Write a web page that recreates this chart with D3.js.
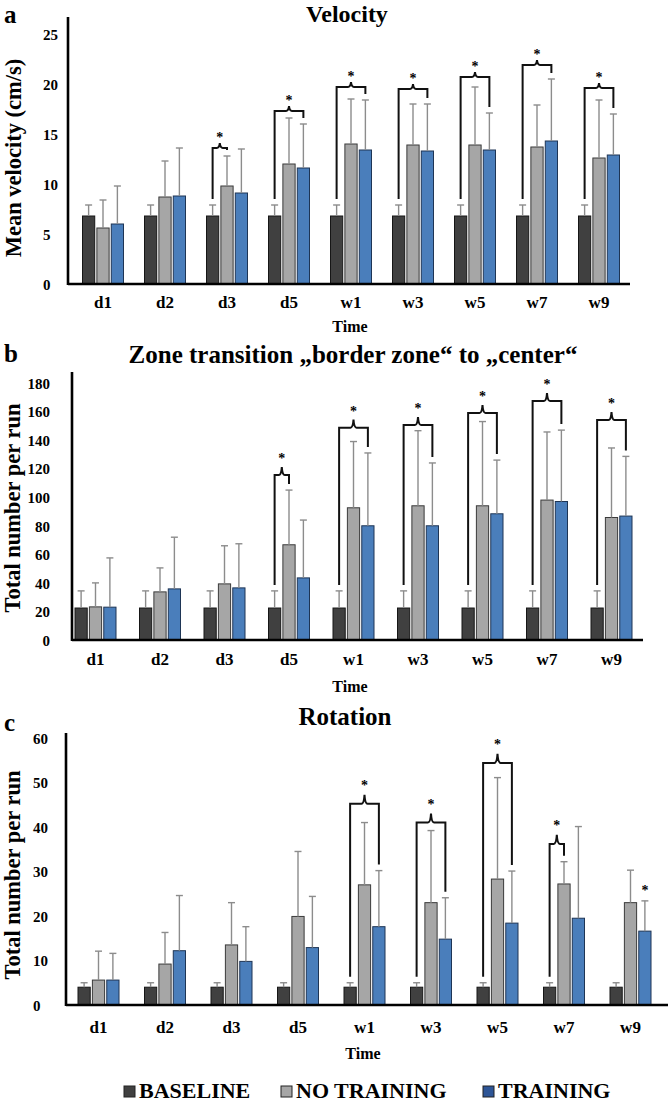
<!DOCTYPE html>
<html><head><meta charset="utf-8">
<script src="https://cdn.jsdelivr.net/npm/d3@7"></script>
<style>
body{margin:0;background:#fff}
svg{display:block}
text{font-family:"Liberation Serif","Times New Roman",serif;font-weight:bold;fill:#000}
</style>
</head><body>
<svg id="chart" width="668" height="1103"></svg>
<script>
// ---------------- DATA ----------------
const categories = ["d1","d2","d3","d5","w1","w3","w5","w7","w9"];
const seriesNames = ["BASELINE","NO TRAINING","TRAINING"];

// Panel a: Velocity (cm/s)
const velBaseline    = [6.8,6.8,6.8,6.8,6.8,6.8,6.8,6.8,6.8];
const velBaselineSD  = [1.1,1.1,1.1,1.1,1.1,1.1,1.1,1.1,1.1];
const velNoTraining  = [5.6,8.7,9.8,12.0,14.0,13.9,13.9,13.7,12.6];
const velNoTrainingSD= [2.8,3.6,3.0,4.6,4.5,4.1,5.8,4.2,5.8];
const velTraining    = [6.0,8.8,9.1,11.6,13.4,13.3,13.4,14.3,12.9];
const velTrainingSD  = [3.8,4.8,4.4,4.4,5.0,4.7,3.7,6.2,4.1];
const velTicks = [0,5,10,15,20,25];
// brackets: [category, from series, to series, top value]
const velBrackets = [["d3",0,1,13.6],["d5",0,2,17.3],["w1",0,2,19.7],["w3",0,2,19.5],["w5",0,2,20.7],["w7",0,2,21.9],["w9",0,2,19.6]];
const velStars = [];

// Panel b: Zone transition
const zoneBaseline    = [22.4,22.4,22.4,22.4,22.4,22.4,22.4,22.4,22.4];
const zoneBaselineSD  = [12,12,12,12,12,12,12,12,12];
const zoneNoTraining  = [23.2,33.7,39.3,66.7,92.6,94,94,98,85.8];
const zoneNoTrainingSD= [16.8,16.8,26.7,38.3,46.4,52.6,59,47.7,48.7];
const zoneTraining    = [23,35.8,36.5,43.5,80,80,88.4,97,86.8];
const zoneTrainingSD  = [34.5,36.2,30.9,40.5,51,44,37.6,50,41.8];
const zoneTicks = [0,20,40,60,80,100,120,140,160,180];
const zoneBrackets = [["d5",0,1,115.5],["w1",0,2,148.7],["w3",0,2,150.6],["w5",0,2,159],["w7",0,2,167.4],["w9",0,2,154]];
const zoneStars = [];

// Panel c: Rotation
const rotBaseline    = [4,4,4,4,4,4,4,4,4];
const rotBaselineSD  = [1,1,1,1,1,1,1,1,1];
const rotNoTraining  = [5.6,9.2,13.5,19.9,27,23,28.3,27.2,23];
const rotNoTrainingSD= [6.5,7.1,9.5,14.6,14,16.2,22.8,5.0,7.3];
const rotTraining    = [5.6,12.2,9.8,12.9,17.6,14.8,18.4,19.5,16.6];
const rotTrainingSD  = [6.0,12.4,7.8,11.5,12.6,9.3,11.7,20.6,6.8];
const rotTicks = [0,10,20,30,40,50,60];
const rotBrackets = [["w1",0,2,45.2],["w3",0,2,41],["w5",0,2,54.4],["w7",0,1,36.2]];
const rotStars = [["w9",2]];

// ---------------- STYLE ----------------
const fills   = ["#404040","#a6a6a6","#4a7ebb"];
const strokes = ["#161616","#3a3a3a","#1e3555"];
const legendFills = ["#404040","#a6a6a6","#2e5596"];
const errColor = "#8c8c8c";

const panels = [
  {letter:"a", title:"Velocity", titleX:347, titleY:22, titleSize:24, letterY:23,
   ylabel:"Mean velocity (cm/s)", ylabX:21, ylabY:158,
   vals:[velBaseline,velNoTraining,velTraining], sds:[velBaselineSD,velNoTrainingSD,velTrainingSD],
   ticks:velTicks, brackets:velBrackets, stars:velStars,
   xr:[72,630], y0:284, y1:34, dom:[0,25], axX:68, axTop:17, axEnd:630,
   tickAnchor:"start", tickX:43, catY:308, timeX:350, timeY:332, peak:5, starOff:12},
  {letter:"b", title:"Zone transition \u201Eborder zone\u201C to \u201Ecenter\u201C", titleX:353, titleY:363, titleSize:25, letterY:362,
   ylabel:"Total number per run", ylabX:20, ylabY:508,
   vals:[zoneBaseline,zoneNoTraining,zoneTraining], sds:[zoneBaselineSD,zoneNoTrainingSD,zoneTrainingSD],
   ticks:zoneTicks, brackets:zoneBrackets, stars:zoneStars,
   xr:[63.25,643.75], y0:640, y1:383, dom:[0,180], axX:72, axTop:372, axEnd:643,
   tickAnchor:"end", tickX:50, catY:665, timeX:350, timeY:692, peak:8, starOff:18},
  {letter:"c", title:"Rotation", titleX:345, titleY:725, titleSize:25, letterY:731,
   ylabel:"Total number per run", ylabX:20, ylabY:875,
   vals:[rotBaseline,rotNoTraining,rotTraining], sds:[rotBaselineSD,rotNoTrainingSD,rotTrainingSD],
   ticks:rotTicks, brackets:rotBrackets, stars:rotStars,
   xr:[65.25,663.75], y0:1005, y1:738, dom:[0,60], axX:66, axTop:733, axEnd:668,
   tickAnchor:"start", tickX:33, catY:1033, timeX:363, timeY:1059, peak:9, starOff:20}
];

const svg = d3.select("#chart");

panels.forEach(p => {
  const g = svg.append("g");
  const x = d3.scaleBand().domain(categories).range(p.xr);
  const inner = d3.scaleBand().domain([0,1,2]).range([-20.5,20.5]).paddingInner(0.15);
  const y = d3.scaleLinear().domain(p.dom).range([p.y0,p.y1]);
  const cx = (c,s) => x(c) + x.bandwidth()/2 + inner(s) + inner.bandwidth()/2;

  // title and letter
  g.append("text").attr("x",p.titleX).attr("y",p.titleY).attr("text-anchor","middle")
    .style("font-size",p.titleSize+"px").text(p.title);
  g.append("text").attr("x",4).attr("y",p.letterY).style("font-size","25px").text(p.letter);

  // y label
  g.append("text").attr("transform",`translate(${p.ylabX},${p.ylabY}) rotate(-90)`)
    .attr("text-anchor","middle").style("font-size","22.5px").text(p.ylabel);

  // y axis ticks
  const ya = g.append("g").attr("transform",`translate(${p.axX},0)`)
    .call(d3.axisLeft(y).tickValues(p.ticks).tickSize(0).tickFormat(d3.format("d")));
  ya.select(".domain").remove();
  ya.selectAll("text").attr("x",p.tickX - p.axX).attr("text-anchor",p.tickAnchor)
    .attr("dy","0.35em").style("font-size","15px").style("font-family",null).attr("fill","#000");

  // x axis labels
  const xa = g.append("g").attr("transform",`translate(0,${p.y0})`)
    .call(d3.axisBottom(x).tickSize(0));
  xa.select(".domain").remove();
  xa.selectAll("text").attr("y",p.catY - p.y0).attr("dy",0)
    .style("font-size","17px").style("font-family",null).attr("fill","#000");

  g.append("text").attr("x",p.timeX).attr("y",p.timeY).attr("text-anchor","middle")
    .style("font-size","16px").text("Time");

  // bars
  const rows = [];
  categories.forEach((c,i) => [0,1,2].forEach(s => rows.push({c, s, v:p.vals[s][i], sd:p.sds[s][i]})));
  g.selectAll("rect.bar").data(rows).join("rect").attr("class","bar")
    .attr("x",d => x(d.c) + x.bandwidth()/2 + inner(d.s))
    .attr("width",inner.bandwidth())
    .attr("y",d => y(d.v))
    .attr("height",d => y(0) - y(d.v))
    .attr("fill",d => fills[d.s]).attr("stroke",d => strokes[d.s]).attr("stroke-width",1);

  // error bars
  const eb = g.selectAll("g.err").data(rows).join("g").attr("class","err")
    .attr("stroke",errColor).attr("stroke-width",1.4);
  eb.append("line").attr("x1",d=>cx(d.c,d.s)).attr("x2",d=>cx(d.c,d.s))
    .attr("y1",d=>y(d.v)).attr("y2",d=>y(d.v+d.sd));
  eb.append("line").attr("x1",d=>cx(d.c,d.s)-3.5).attr("x2",d=>cx(d.c,d.s)+3.5)
    .attr("y1",d=>y(d.v+d.sd)).attr("y2",d=>y(d.v+d.sd));

  // axes lines
  g.append("line").attr("x1",p.axX).attr("x2",p.axX).attr("y1",p.axTop).attr("y2",y(0)+1)
    .attr("stroke","#000").attr("stroke-width",2.6);
  g.append("line").attr("x1",p.axX).attr("x2",p.axEnd).attr("y1",y(0)).attr("y2",y(0))
    .attr("stroke","#000").attr("stroke-width",2.6);

  // brackets
  const gap = 6;
  p.brackets.forEach(([c,a,b,top]) => {
    const i = categories.indexOf(c);
    const x1 = cx(c,a), x2 = cx(c,b), yt = y(top);
    const yl1 = y(p.vals[a][i] + p.sds[a][i]) - gap;
    const yl2 = y(p.vals[b][i] + p.sds[b][i]) - gap;
    const m = (x1+x2)/2, w = 3, ph = p.peak;
    const path = `M${x1},${yl1}V${yt}H${m-w}Q${m-0.6},${yt} ${m},${yt-ph}Q${m+0.6},${yt} ${m+w},${yt}H${x2}V${yl2}`;
    g.append("path").attr("d",path).attr("fill","none").attr("stroke","#111").attr("stroke-width",2);
    g.append("text").attr("x",m).attr("y",yt - p.starOff + 6).attr("text-anchor","middle")
      .style("font-size","14px").attr("fill","#222").text("*");
  });
  p.stars.forEach(([c,s]) => {
    const i = categories.indexOf(c);
    const yc = y(p.vals[s][i] + p.sds[s][i]) - 12;
    g.append("text").attr("x",cx(c,s)).attr("y",yc + 6).attr("text-anchor","middle")
      .style("font-size","14px").attr("fill","#222").text("*");
  });
});

// legend
const legX = [124, 281, 483];
const legG = svg.append("g");
seriesNames.forEach((n,i) => {
  legG.append("rect").attr("x",legX[i]).attr("y",1086).attr("width",11).attr("height",11)
    .attr("fill",legendFills[i]).attr("stroke","#222").attr("stroke-width",1);
  legG.append("text").attr("x",legX[i]+15).attr("y",1098).style("font-size","22px").text(n);
});
</script>
</body></html>
